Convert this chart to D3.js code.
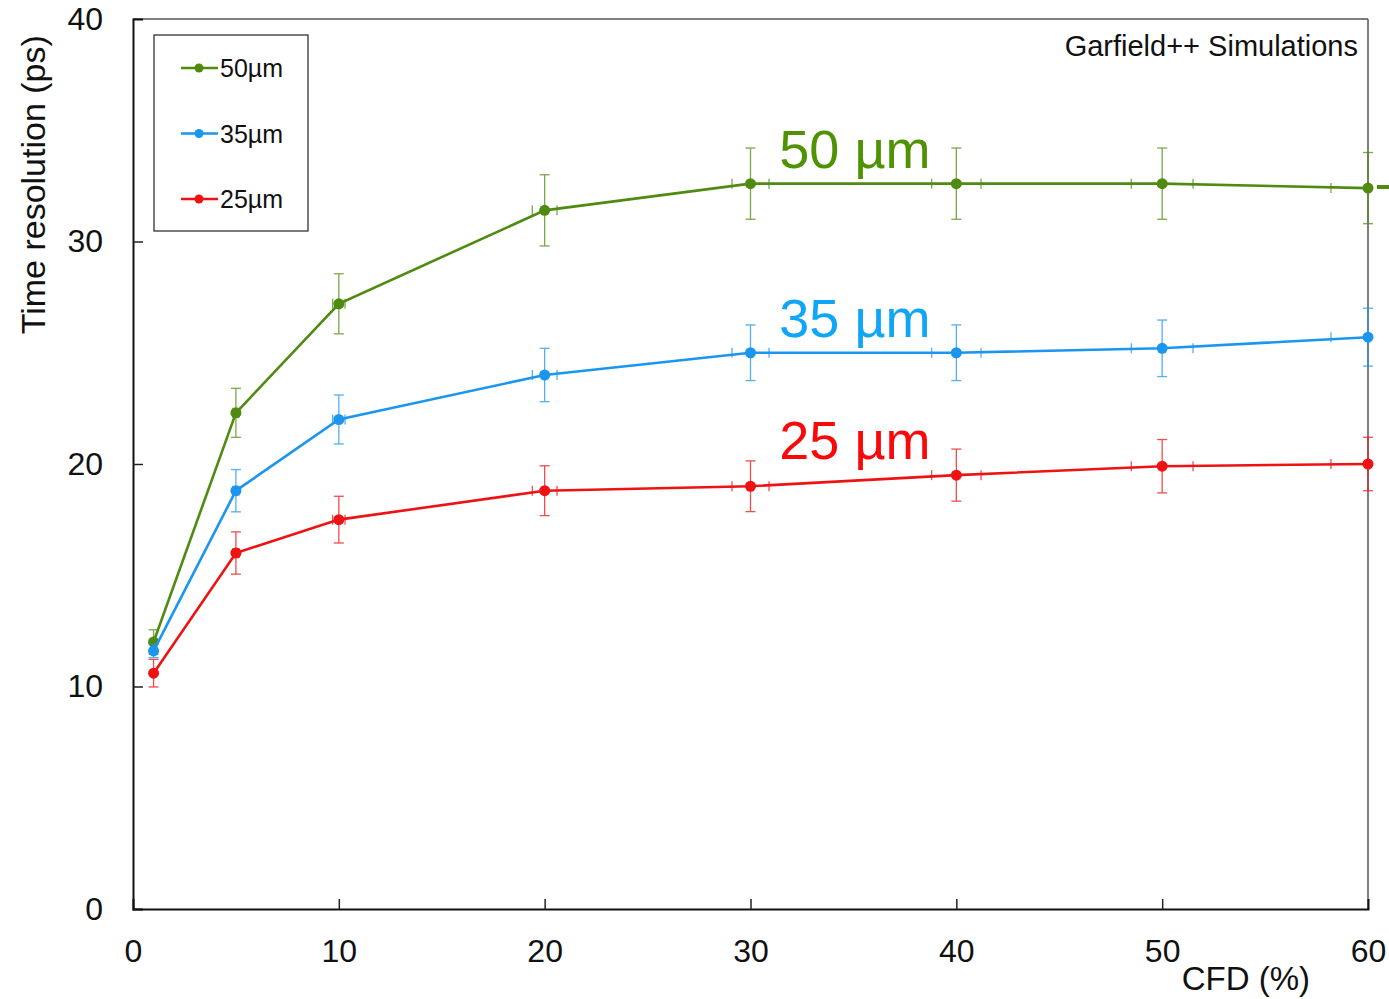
<!DOCTYPE html>
<html>
<head>
<meta charset="utf-8">
<script src="https://cdn.jsdelivr.net/npm/d3@7"></script>
<style>
  body { margin: 0; background: #fff; }
  text { font-family: "Liberation Sans", Arial, sans-serif; }
</style>
</head>
<body>
<script>
// CFD thresholds (%)
const cfd = [1, 5, 10, 20, 30, 40, 50, 60];
const cfdErr = [0.03, 0.15, 0.3, 0.6, 0.9, 1.2, 1.5, 1.8];

// time resolution (ps) per thickness
const res50 = [12.0, 22.3, 27.2, 31.4, 32.6, 32.6, 32.6, 32.4];
const err50 = [0.55, 1.1, 1.35, 1.6, 1.6, 1.6, 1.6, 1.6];
const res35 = [11.6, 18.8, 22.0, 24.0, 25.0, 25.0, 25.2, 25.7];
const err35 = [0.3, 0.95, 1.1, 1.2, 1.25, 1.25, 1.27, 1.3];
const res25 = [10.6, 16.0, 17.5, 18.8, 19.0, 19.5, 19.9, 20.0];
const err25 = [0.62, 0.95, 1.05, 1.12, 1.14, 1.17, 1.2, 1.2];

const seriesNames = ["50µm", "35µm", "25µm"];
const seriesLabels = ["50 µm", "35 µm", "25 µm"];
const labelAt = [32.6, 25.0, 19.5]; // value where the big label sits above
const xTicks = [0, 10, 20, 30, 40, 50, 60];
const yTicks = [0, 10, 20, 30, 40];

const colors = ["#4f8b10", "#1b96ef", "#ee1212"];
const labelColors = ["#4f9305", "#10a6f7", "#f80a0a"];

var margin = {top: 19, right: 21, bottom: 90, left: 133},
    W = 1389, H = 999,
    width = W - margin.left - margin.right,
    height = H - margin.top - margin.bottom;

var svg = d3.select("body").append("svg")
  .attr("width", W).attr("height", H);
var g = svg.append("g")
  .attr("transform", "translate(" + margin.left + "," + margin.top + ")");

var x = d3.scaleLinear().domain([0, 60]).range([0, width]);
var y = d3.scaleLinear().domain([0, 40]).range([height, 0]);

// frame (top / right)
g.append("line").attr("x1", 0).attr("x2", width).attr("y1", 0).attr("y2", 0)
  .attr("stroke", "#555").attr("stroke-width", 1.5);
g.append("line").attr("x1", width).attr("x2", width).attr("y1", 0).attr("y2", height)
  .attr("stroke", "#555").attr("stroke-width", 1.5);

// axes with inward ticks
var xAxis = g.append("g")
  .attr("transform", "translate(0," + height + ")")
  .call(d3.axisBottom(x).tickValues(xTicks).tickSize(-10).tickPadding(30));
var yAxis = g.append("g")
  .call(d3.axisLeft(y).tickValues(yTicks).tickSize(-10).tickPadding(30));
[xAxis, yAxis].forEach(a => {
  a.select(".domain").attr("stroke", "#111").attr("stroke-width", 2);
  a.selectAll(".tick line").attr("stroke", "#222").attr("stroke-width", 1.5);
  a.selectAll(".tick text").attr("font-size", 32).attr("fill", "#111")
    .attr("font-family", "Liberation Sans, Arial, sans-serif");
});
xAxis.selectAll(".tick").filter(d => d === 0 || d === 60).select("line").remove();
yAxis.selectAll(".tick").filter(d => d === 0 || d === 40).select("line").remove();

// axis titles
g.append("text")
  .attr("transform", "translate(-88," + (y(32.55)) + ") rotate(-90)")
  .attr("text-anchor", "middle")
  .attr("font-size", 34).attr("fill", "#111")
  .text("Time resolution (ps)");
g.append("text")
  .attr("x", x(50.95)).attr("y", height + 81)
  .attr("font-size", 33).attr("fill", "#111")
  .text("CFD (%)");

g.append("text")
  .attr("x", width - 10).attr("y", 37)
  .attr("text-anchor", "end")
  .attr("font-size", 29).attr("fill", "#111")
  .text("Garfield++ Simulations");

const allRes = [res50, res35, res25];
const allErr = [err50, err35, err25];

allRes.forEach((vals, s) => {
  var pts = cfd.map((c, i) => ({x: c, y: vals[i], ey: allErr[s][i], ex: cfdErr[i]}));
  var col = colors[s];
  var eg = g.append("g").attr("stroke", col).attr("stroke-width", 1.3).attr("opacity", 0.75);
  pts.forEach(p => {
    // vertical error bar
    eg.append("line").attr("x1", x(p.x)).attr("x2", x(p.x))
      .attr("y1", y(p.y - p.ey)).attr("y2", y(p.y + p.ey));
    [p.y - p.ey, p.y + p.ey].forEach(v => {
      eg.append("line").attr("x1", x(p.x) - 5).attr("x2", x(p.x) + 5)
        .attr("y1", y(v)).attr("y2", y(v));
    });
    // horizontal error caps
    [p.x - p.ex, p.x + p.ex].forEach(v => {
      eg.append("line").attr("x1", x(v)).attr("x2", x(v))
        .attr("y1", y(p.y) - 5).attr("y2", y(p.y) + 5);
    });
  });
  g.append("path").datum(pts)
    .attr("fill", "none").attr("stroke", col).attr("stroke-width", 2.6)
    .attr("d", d3.line().x(d => x(d.x)).y(d => y(d.y)));
  g.selectAll(null).data(pts).enter().append("circle")
    .attr("cx", d => x(d.x)).attr("cy", d => y(d.y)).attr("r", 5.5)
    .attr("fill", col);

  g.append("text")
    .attr("x", x(31.4)).attr("y", y(labelAt[s]) - 16)
    .attr("font-size", 54).attr("fill", labelColors[s])
    .text(seriesLabels[s]);
});

// green line continuing past the frame
g.append("line")
  .attr("x1", width + 9).attr("x2", width + 22)
  .attr("y1", y(res50[7] + 0.05)).attr("y2", y(res50[7] + 0.05))
  .attr("stroke", colors[0]).attr("stroke-width", 4);

// legend
var lg = svg.append("g").attr("transform", "translate(154,35)");
lg.append("rect").attr("width", 154).attr("height", 196)
  .attr("fill", "#fff").attr("stroke", "#222").attr("stroke-width", 1.2);
seriesNames.forEach((n, i) => {
  var yy = 33 + i * 65.5;
  lg.append("line").attr("x1", 27).attr("x2", 64).attr("y1", yy).attr("y2", yy)
    .attr("stroke", colors[i]).attr("stroke-width", 2.5);
  lg.append("circle").attr("cx", 45).attr("cy", yy).attr("r", 4.5).attr("fill", colors[i]);
  lg.append("text").attr("x", 66).attr("y", yy + 9)
    .attr("font-size", 25).attr("fill", "#111").text(n);
});
</script>
</body>
</html>
